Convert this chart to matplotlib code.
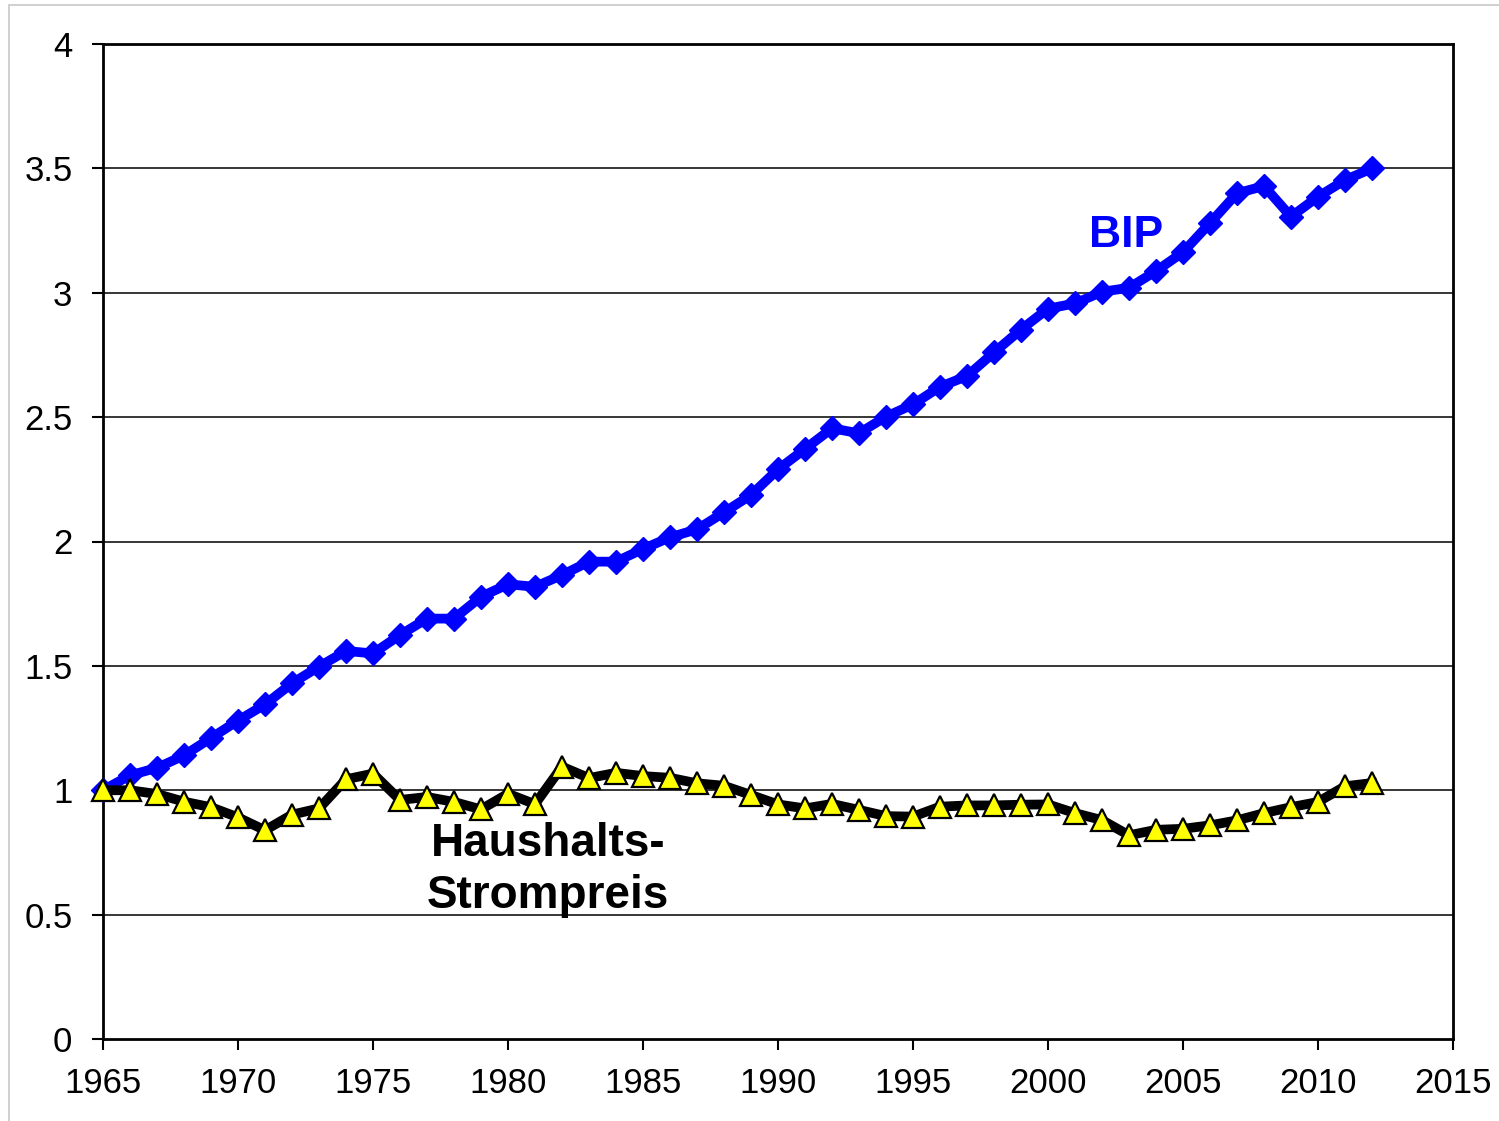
import matplotlib
matplotlib.use("Agg")
import matplotlib.pyplot as plt
from matplotlib.patches import Rectangle

years = list(range(1965, 2013))
bip = [1.00, 1.06, 1.09, 1.14, 1.21, 1.28, 1.345, 1.43, 1.497, 1.56,
       1.55, 1.624, 1.69, 1.69, 1.778, 1.828, 1.818, 1.865, 1.919, 1.919,
       1.97, 2.017, 2.049, 2.117, 2.187, 2.29, 2.372, 2.455, 2.435, 2.502,
       2.551, 2.622, 2.665, 2.76, 2.852, 2.936, 2.957, 3.004, 3.02, 3.087,
       3.163, 3.28, 3.40, 3.429, 3.306, 3.386, 3.453, 3.50]
strompreis = [1.00, 1.00, 0.985, 0.954, 0.932, 0.891, 0.839, 0.902, 0.927, 1.044,
              1.067, 0.961, 0.973, 0.953, 0.923, 0.986, 0.944, 1.095, 1.049, 1.07,
              1.057, 1.05, 1.028, 1.018, 0.981, 0.943, 0.927, 0.945, 0.921, 0.896,
              0.894, 0.934, 0.939, 0.939, 0.942, 0.943, 0.908, 0.88, 0.819, 0.841,
              0.845, 0.859, 0.879, 0.908, 0.932, 0.953, 1.016, 1.029]
x_ticks = [1965, 1970, 1975, 1980, 1985, 1990, 1995, 2000, 2005, 2010, 2015]
y_ticks = [0, 0.5, 1, 1.5, 2, 2.5, 3, 3.5, 4]
y_labels = ["0", "0.5", "1", "1.5", "2", "2.5", "3", "3.5", "4"]

plt.rcParams['font.family'] = ['Liberation Sans', 'DejaVu Sans']

W, H = 1499, 1121
fig = plt.figure(figsize=(W / 100, H / 100), dpi=100)
fig.patch.set_facecolor('white')
fig.patches.append(Rectangle((9 / W, -0.01), 1.02, 1 - 5 / H + 0.01, transform=fig.transFigure,
                             fill=False, edgecolor='#c8c8c8', linewidth=1.2))

ax = fig.add_axes([103 / W, 1 - 1039 / H, (1453 - 103) / W, (1039 - 44) / H])
ax.set_xlim(1965, 2015)
ax.set_ylim(0, 4)

for yv in y_ticks[1:-1]:
    ax.axhline(yv, color='#000000', linewidth=1.1, zorder=1)

ax.plot(years, bip, color='#0000ff', linewidth=7, marker='D', markersize=12,
        markerfacecolor='#0000ff', markeredgecolor='#0000ff', zorder=3, clip_on=False)
ax.plot(years, strompreis, color='#000000', linewidth=7, marker='^', markersize=16.5,
        markerfacecolor='#ffff00', markeredgecolor='#000000', markeredgewidth=1.6,
        zorder=4, clip_on=False)

ax.set_xticks(x_ticks)
ax.set_xticklabels([str(v) for v in x_ticks])
ax.set_yticks(y_ticks)
ax.set_yticklabels(y_labels)
ax.tick_params(axis='both', direction='out', length=8, width=1.5, labelsize=25,
               colors='black')
ax.tick_params(axis='x', pad=12)
ax.tick_params(axis='y', pad=14)
for s in ax.spines.values():
    s.set_linewidth(2.0)
    s.set_color('black')

ax.text(2002.9, 3.232, "BIP", color='#0000ff', fontsize=32,
        fontweight='bold', ha='center', va='center')
ax.text(1981.48, 0.68, "Haushalts-\nStrompreis", color='black', fontsize=33,
        fontweight='bold', ha='center', va='center', linespacing=1.24)

fig.savefig("out.png", dpi=100, facecolor='white')
